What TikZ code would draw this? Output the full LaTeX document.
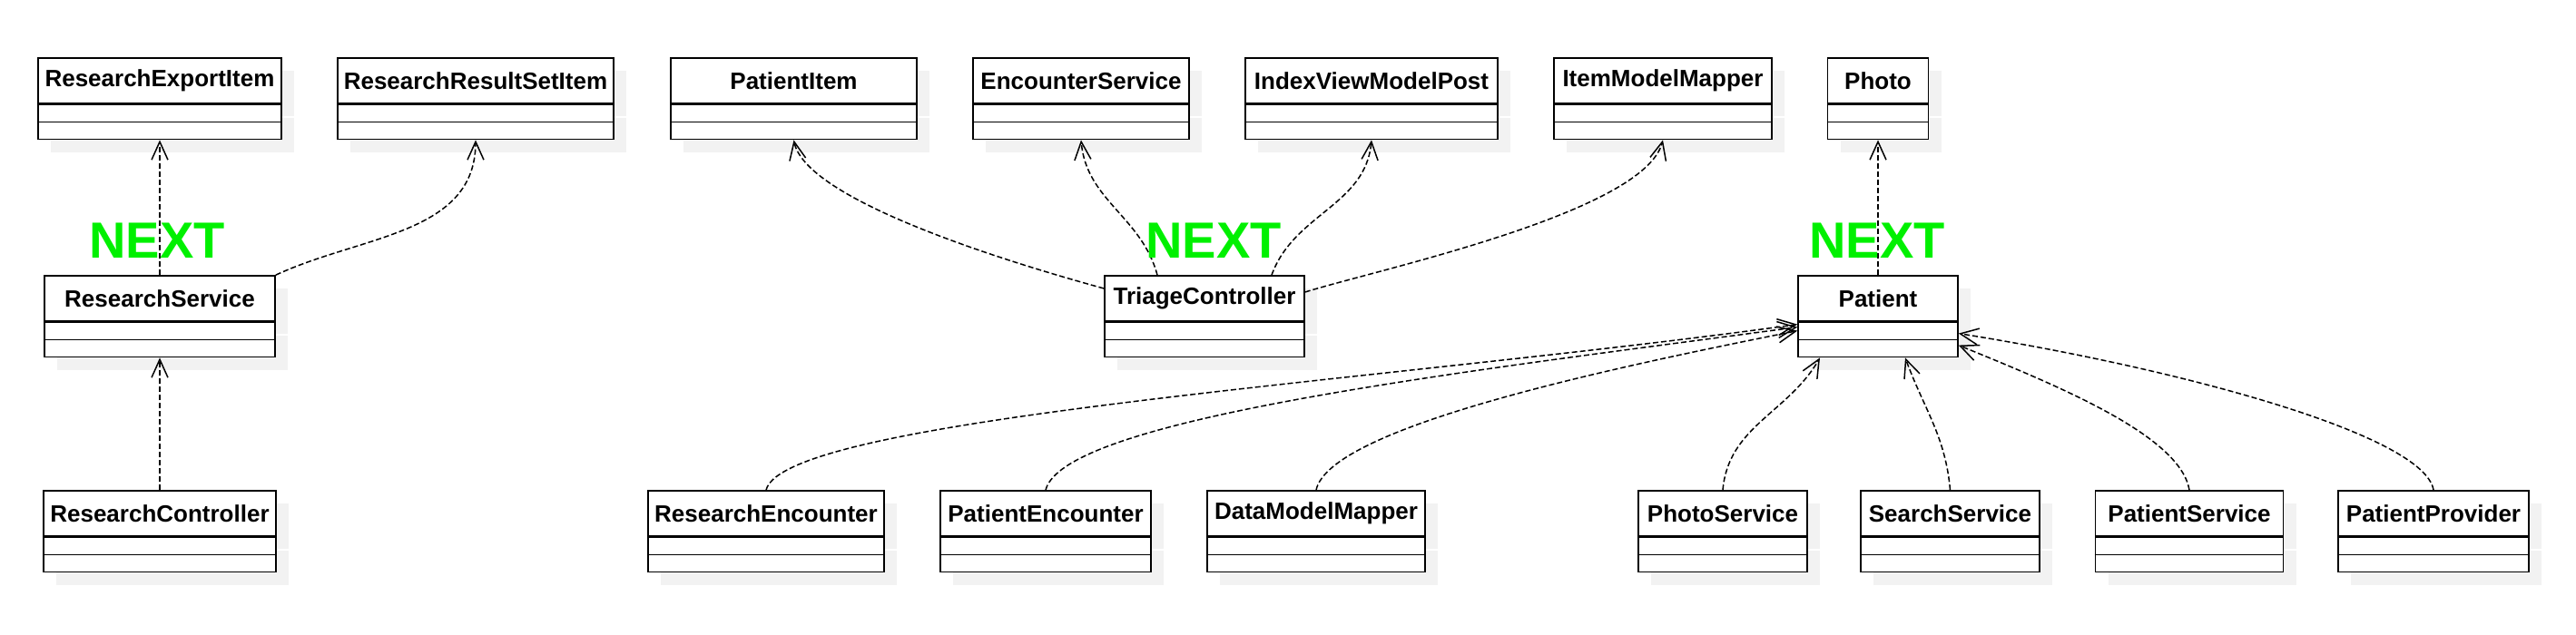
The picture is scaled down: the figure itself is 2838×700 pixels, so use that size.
\documentclass[tikz,border=0pt]{standalone}
\usepackage{fontspec}
\setmainfont{Liberation Sans}
\usetikzlibrary{arrows.meta, shadows, positioning}

\definecolor{nextgreen}{RGB}{0,240,0}
\definecolor{shadowgray}{RGB}{242,242,242}

\tikzset{
  classbox/.style={draw, line width=0.8pt, fill=white, inner sep=0pt,
    drop shadow={shadow xshift=7pt, shadow yshift=-7pt, fill=shadowgray, opacity=1}},
  classhead/.style={classbox, minimum height=25pt, font=\fontsize{13}{15}\selectfont\bfseries},
  classbody/.style={classbox, minimum height=19pt},
  dep/.style={line width=0.75pt, dash pattern=on 3pt off 1.5pt, -{Straight Barb[length=10pt,width=9pt]}},
  nextlabel/.style={anchor=base, text=nextgreen, font=\fontsize{28}{32}\selectfont\bfseries}
}

\begin{document}
\begin{tikzpicture}[x=0.5pt, y=0.5pt]
\useasboundingbox (0,0) rectangle (2838,700);
% class boxes: name / x / y / width / title
\foreach \n/\x/\y/\w/\t in {
  rexp/176/611/134/ResearchExportItem, rrsi/524/611/152/ResearchResultSetItem,
  patitem/874.5/611/135.5/PatientItem, encserv/1191/611/119/EncounterService,
  ivmp/1511/611/139/IndexViewModelPost, imm/1832/611/120/ItemModelMapper,
  photo/2069/611/55.5/Photo,
  rs/176/371/127/ResearchService, tc/1327/371/110/TriageController,
  pat/2069/371/88/Patient,
  rc/176/134/128/ResearchController, renc/844/134/130/ResearchEncounter,
  penc/1152/134/116/PatientEncounter, dmm/1450/134/120/DataModelMapper,
  psvc/1898/134/93/PhotoService, ssvc/2148.5/134/98.5/SearchService,
  pserv/2412/134/103.5/PatientService, pprov/2681/134/105/PatientProvider}{
  \node[classhead, minimum width=\w pt] (\n) at (\x,\y) {\t};
  \node[classbody, minimum width=\w pt, below=0pt of \n] (\n-b) {};
  \draw[line width=0.8pt] (\n-b.west) -- (\n-b.east);
}

% research side
\draw[dep] (rs) -- (rexp-b);
\draw[dep] (rs.north east) to[out=25,in=-90] (rrsi-b.south);
\draw[dep] (rc) -- (rs-b);

% triage controller
\draw[dep] ([yshift=5.5pt]tc.west) .. controls +(-80,22) and +(14,-70) .. (patitem-b.south);
\draw[dep] ([xshift=-26pt]tc.north) to[out=105,in=-85] (encserv-b.south);
\draw[dep] ([xshift=37pt]tc.north) to[out=70,in=-95] (ivmp-b.south);
\draw[dep] ([yshift=3.5pt]tc.east) .. controls +(80,25) and +(-20,-80) .. (imm-b.south);

% patient
\draw[dep] (pat) -- (photo-b);
\draw[dep] (renc.north) .. controls +(20,80) and +(-453,-63) .. ([yshift=8.5pt]pat-b.west);
\draw[dep] (penc.north) .. controls +(20,80) and +(-357,-48) .. ([yshift=7pt]pat-b.west);
\draw[dep] (dmm.north) .. controls +(15,70) and +(-200,-40) .. ([yshift=5pt]pat-b.west);
\draw[dep] (psvc.north) to[out=85,in=-120] ([xshift=-32pt]pat-b.south);
\draw[dep] (ssvc.north) to[out=95,in=-70] ([xshift=15pt]pat-b.south);
\draw[dep] (pserv.north) .. controls +(-10,60) and +(110,-45) .. ([yshift=-3pt]pat-b.east);
\draw[dep] (pprov.north) .. controls +(-10,60) and +(250,-40) .. ([yshift=3.5pt]pat-b.east);

\node[nextlabel] (next1) at (173,415) {NEXT};
\node[nextlabel] (next2) at (1337,415) {NEXT};
\node[nextlabel] (next3) at (2068,415) {NEXT};
\end{tikzpicture}
\end{document}
